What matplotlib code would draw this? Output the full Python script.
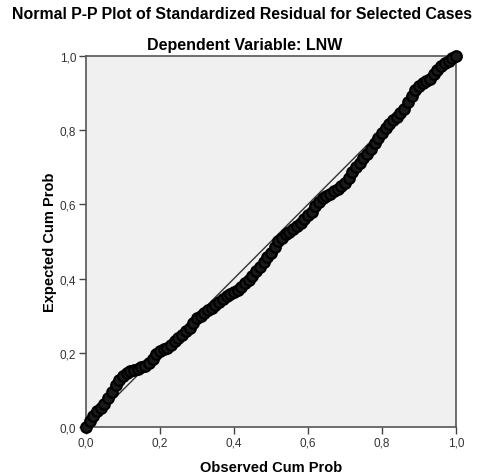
import numpy as np
import matplotlib.pyplot as plt
from matplotlib.ticker import FuncFormatter

plt.rcParams['font.family'] = ['Liberation Sans', 'DejaVu Sans']

# observed vs expected cumulative probability of the standardized residuals
observed = [0.00, 0.01, 0.02, 0.03, 0.04, 0.05, 0.06, 0.07, 0.08, 0.09,
            0.10, 0.11, 0.12, 0.13, 0.14, 0.15, 0.16, 0.17, 0.18, 0.19,
            0.20, 0.21, 0.22, 0.23, 0.24, 0.25, 0.26, 0.27, 0.28, 0.29,
            0.30, 0.31, 0.32, 0.33, 0.34, 0.35, 0.36, 0.37, 0.38, 0.39,
            0.40, 0.41, 0.42, 0.43, 0.44, 0.45, 0.46, 0.47, 0.48, 0.49,
            0.50, 0.51, 0.52, 0.53, 0.54, 0.55, 0.56, 0.57, 0.58, 0.59,
            0.60, 0.61, 0.62, 0.63, 0.64, 0.65, 0.66, 0.67, 0.68, 0.69,
            0.70, 0.71, 0.72, 0.73, 0.74, 0.75, 0.76, 0.77, 0.78, 0.79,
            0.80, 0.81, 0.82, 0.83, 0.84, 0.85, 0.86, 0.87, 0.88, 0.89,
            0.90, 0.91, 0.92, 0.93, 0.94, 0.95, 0.96, 0.97, 0.98, 0.99, 1.00]
expected = [0.000, 0.015, 0.030, 0.042, 0.052, 0.062, 0.078, 0.095, 0.112, 0.126,
            0.138, 0.145, 0.150, 0.153, 0.157, 0.161, 0.165, 0.172, 0.183, 0.196,
            0.204, 0.209, 0.214, 0.222, 0.232, 0.240, 0.248, 0.258, 0.268, 0.281,
            0.294, 0.300, 0.308, 0.316, 0.322, 0.330, 0.338, 0.345, 0.352, 0.359,
            0.365, 0.370, 0.378, 0.387, 0.397, 0.408, 0.420, 0.432, 0.445, 0.458,
            0.470, 0.486, 0.500, 0.510, 0.519, 0.526, 0.533, 0.541, 0.550, 0.560,
            0.570, 0.580, 0.595, 0.607, 0.616, 0.623, 0.628, 0.635, 0.642, 0.650,
            0.658, 0.670, 0.686, 0.700, 0.712, 0.724, 0.736, 0.748, 0.765, 0.780,
            0.792, 0.806, 0.817, 0.826, 0.836, 0.846, 0.857, 0.875, 0.893, 0.908,
            0.918, 0.926, 0.932, 0.938, 0.950, 0.963, 0.972, 0.980, 0.987, 0.994, 1.000]
ticks = [0.0, 0.2, 0.4, 0.6, 0.8, 1.0]

fig = plt.figure(figsize=(4.8, 4.77), dpi=100)
ax = fig.add_axes([0.179, 0.1027, 0.771, 0.778])
ax.set_facecolor('#f0f0f0')

# reference diagonal
ax.plot([0, 1], [0, 1], color='#333333', linewidth=1.0, zorder=2)
ax.scatter(observed, expected, s=58, facecolors='#1a1a1a', edgecolors='black',
           linewidths=1.6, zorder=3, clip_on=False)

ax.set_xlim(0, 1)
ax.set_ylim(0, 1)
ax.set_xticks(ticks)
ax.set_yticks(ticks)
fmt = FuncFormatter(lambda v, p: f"{v:.1f}".replace('.', ','))
ax.xaxis.set_major_formatter(fmt)
ax.yaxis.set_major_formatter(fmt)
ax.tick_params(direction='out', length=5, width=1, colors='#444444',
               labelsize=8.5, labelcolor='#333333', pad=2)
for s in ax.spines.values():
    s.set_color('#555555')
    s.set_linewidth(1.2)

ax.set_xlabel('Observed Cum Prob', fontsize=10.5, fontweight='bold', labelpad=8)
ax.set_ylabel('Expected Cum Prob', fontsize=10.5, fontweight='bold', labelpad=2)

fig.text(0.505, 0.97, 'Normal P-P Plot of Standardized Residual for Selected Cases',
         ha='center', va='center', fontsize=11.4, fontweight='bold')
fig.text(0.51, 0.904, 'Dependent Variable: LNW',
         ha='center', va='center', fontsize=11.5, fontweight='bold')

fig.savefig('out.png', dpi=100)
